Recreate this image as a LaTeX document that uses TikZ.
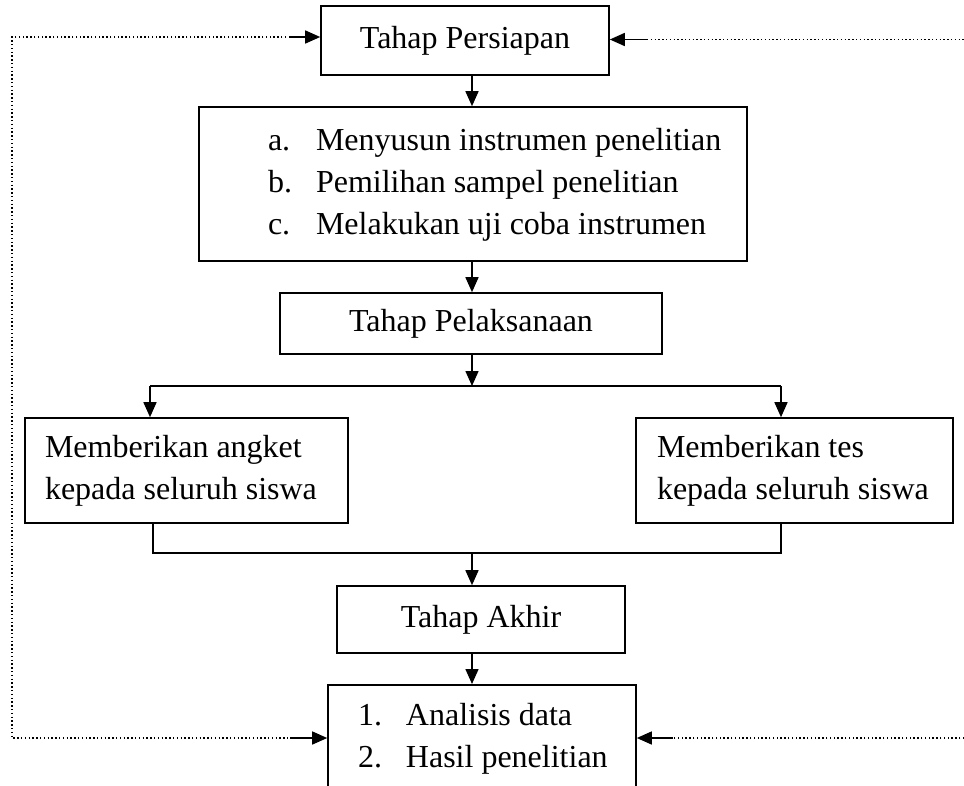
\documentclass[tikz,border=0pt]{standalone}
\usepackage{fontspec}
\setmainfont{Liberation Serif}
\usetikzlibrary{arrows.meta}

\tikzset{
  kotak/.style={draw, line width=1.6pt, inner sep=0pt, font=\fontsize{32pt}{42pt}\selectfont},
  panah/.style={line width=1.5pt, -{Triangle[length=15pt,width=13pt]}},
  garis/.style={line width=1.5pt},
  titik/.style={line width=1.4pt, dash pattern=on 1.4pt off 2.4pt},
}
% box text: width, left indent, lines
\newcommand{\isikotak}[3]{\makebox[#1][l]{\hspace*{#2}\begin{tabular}{@{}l@{}}#3\end{tabular}}}
\newcommand{\butir}[1]{\makebox[48pt][l]{#1}}

\begin{document}
\begin{tikzpicture}[x=1pt, y=-1pt]
        % Fix the frame of the picture (the last box runs out of it)
        \useasboundingbox (0,0) rectangle (964,785);
        \clip (0,0) rectangle (964,785);

        % Define the main column and the branch points
        \coordinate (spine) at (472,0);
        \coordinate (cabang) at (472,386);
        \coordinate (cabangkiri) at (150,386);
        \coordinate (cabangkanan) at (781,386);
        \coordinate (gabungkiri) at (153,553);
        \coordinate (gabungkanan) at (781,553);
        \coordinate (gabung) at (472,553);

        % Draw the boxes of the three stages
        \node[kotak, minimum width=288pt, minimum height=69pt] (persiapan) at (465,40.5) {Tahap Persiapan};
        \node[kotak, minimum height=154pt] (langkah) at (473,184) {\isikotak{548pt}{69pt}{%
            \butir{a.}Menyusun instrumen penelitian\\
            \butir{b.}Pemilihan sampel penelitian\\
            \butir{c.}Melakukan uji coba instrumen}};
        \node[kotak, minimum width=382pt, minimum height=61pt] (pelaksanaan) at (471,323.5) {Tahap Pelaksanaan};
        \node[kotak, minimum height=105pt] (angket) at (186.5,470.5) {\isikotak{323pt}{20pt}{%
            Memberikan angket\\kepada seluruh siswa}};
        \node[kotak, minimum height=105pt] (tes) at (794.5,470.5) {\isikotak{317pt}{21pt}{%
            Memberikan tes\\kepada seluruh siswa}};
        \node[kotak, minimum width=288pt, minimum height=67pt] (akhir) at (481,619.5) {Tahap Akhir};
        \node[kotak, inner ysep=11.6pt, anchor=north] (hasil) at (482,684) {\isikotak{308pt}{30pt}{%
            \butir{1.}Analisis data\\
            \butir{2.}Hasil penelitian}};

        % Draw the main flow
        \draw[panah] (persiapan.south -| spine) -- (langkah.north -| spine);
        \draw[panah] (langkah.south -| spine) -- (pelaksanaan.north -| spine);
        \draw[panah] (pelaksanaan.south -| spine) -- (cabang);
        \draw[garis] (cabangkiri) -- (cabangkanan);
        \draw[panah] (cabangkiri) -- (angket.north -| cabangkiri);
        \draw[panah] (cabangkanan) -- (tes.north -| cabangkanan);
        \draw[garis] (angket.south -| gabungkiri) -- (gabungkiri) -- (gabungkanan) -- (tes.south -| gabungkanan);
        \draw[panah] (gabung) -- (akhir.north -| gabung);
        \draw[panah] (akhir.south -| spine) -- (hasil.north -| spine);

        % Dotted feedback on the left
        \coordinate (kiriatas) at (290,37);
        \coordinate (kiribawah) at (290,738);
        \coordinate (tepikiri) at (12,0);
        \draw[titik] (kiriatas) -| (tepikiri |- kiribawah) -- (kiribawah);
        \draw[panah] (kiriatas) -- (persiapan.west |- kiriatas);
        \draw[panah] (kiribawah) -- (hasil.west |- kiribawah);

        % Dotted feedback on the right
        \coordinate (kananatas) at (647,39.5);
        \coordinate (kananbawah) at (673,738);
        \coordinate (tepikanan) at (975,0);
        \draw[titik] (kananatas) -| (tepikanan |- kananbawah) -- (kananbawah);
        \draw[panah] (kananatas) -- (persiapan.east |- kananatas);
        \draw[panah] (kananbawah) -- (hasil.east |- kananbawah);

    \end{tikzpicture}
\end{document}
